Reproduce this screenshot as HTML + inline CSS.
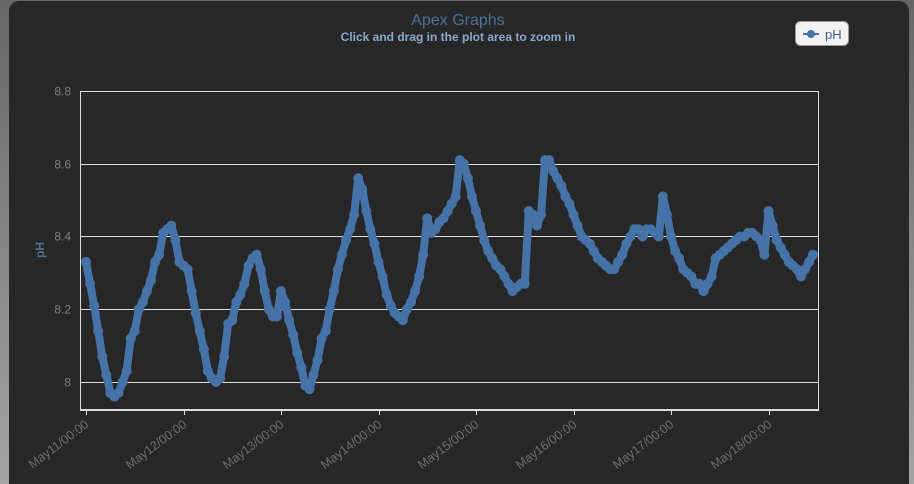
<!DOCTYPE html>
<html><head><meta charset="utf-8"><style>
html,body{margin:0;padding:0;width:914px;height:484px;overflow:hidden;background:linear-gradient(#666,#a4a4a4);font-family:"Liberation Sans",sans-serif}
#panel{position:absolute;left:9px;top:1px;width:900px;height:483px;background:#272727;border-radius:10px 10px 0 0}
svg{position:absolute;left:0;top:0}
</style></head><body>
<div id="panel"></div>
<svg id="chart" width="914" height="484"></svg>
<script>
const tickValues=[8.0,8.2,8.4,8.6,8.8];
const tickLabels=["8","8.2","8.4","8.6","8.8"];
const dayLabels=["May11/00:00","May12/00:00","May13/00:00","May14/00:00","May15/00:00","May16/00:00","May17/00:00","May18/00:00"];
const phValues=[8.33,8.27,8.21,8.14,8.07,8.02,7.97,7.96,7.97,8.00,8.03,8.12,8.14,8.20,8.22,8.25,8.28,8.33,8.35,8.41,8.42,8.43,8.39,8.33,8.32,8.31,8.25,8.19,8.14,8.09,8.03,8.01,8.00,8.01,8.07,8.16,8.17,8.22,8.24,8.27,8.32,8.34,8.35,8.31,8.25,8.20,8.18,8.18,8.25,8.22,8.17,8.13,8.08,8.04,7.99,7.98,8.02,8.06,8.12,8.14,8.20,8.25,8.31,8.35,8.39,8.42,8.46,8.56,8.53,8.47,8.42,8.38,8.33,8.29,8.24,8.21,8.19,8.18,8.17,8.20,8.22,8.25,8.29,8.35,8.45,8.41,8.42,8.44,8.45,8.47,8.49,8.51,8.61,8.60,8.56,8.51,8.47,8.43,8.39,8.36,8.34,8.32,8.31,8.29,8.27,8.25,8.26,8.27,8.27,8.47,8.46,8.43,8.46,8.61,8.61,8.58,8.56,8.54,8.51,8.49,8.46,8.43,8.40,8.39,8.38,8.36,8.34,8.33,8.32,8.31,8.31,8.33,8.35,8.38,8.40,8.42,8.42,8.40,8.42,8.42,8.41,8.40,8.51,8.46,8.40,8.36,8.34,8.31,8.30,8.29,8.27,8.27,8.25,8.27,8.29,8.34,8.35,8.36,8.37,8.38,8.39,8.40,8.40,8.41,8.41,8.40,8.39,8.35,8.47,8.43,8.39,8.37,8.35,8.33,8.32,8.31,8.29,8.31,8.33,8.35,8.35];
const hours=phValues.map((v,i)=>i);

const L=80,R=818,T=91,B=410;
const yS=v=>382-(v-8)/0.2*72.75;
const xS=h=>86+h*97.5/24;
const NS="http://www.w3.org/2000/svg";
const svg=document.getElementById('chart');
function mk(tag,attrs,parent){const e=document.createElementNS(NS,tag);for(const k in attrs)e.setAttribute(k,attrs[k]);(parent||svg).appendChild(e);return e;}

let t=mk('text',{x:458,y:25,'text-anchor':'middle','font-size':16,fill:'#4d7197'});t.textContent='Apex Graphs';


t=mk('text',{x:458,y:41,'text-anchor':'middle','font-size':12,'font-weight':'bold',fill:'#8aa8cc'});t.textContent='Click and drag in the plot area to zoom in';



let r=mk('rect',{x:L+0.5,y:T+0.5,width:R-L,height:B-T,fill:'none',stroke:'#ddd','stroke-width':1});


tickValues.forEach((v,i)=>{
  const y=Math.round(yS(v))+0.5;
  const g=mk('line',{x1:L,x2:R,y1:y,y2:y,stroke:'#ddd','stroke-width':1});
  
  
  const tx=mk('text',{x:71,y:y+4,'text-anchor':'end','font-size':12,fill:'#808080'});
  tx.textContent=tickLabels[i];
  
  
});
const ax=mk('line',{x1:L,x2:R+1,y1:B,y2:B,stroke:'#ddd','stroke-width':2});


dayLabels.forEach((d,i)=>{
  const x=Math.round(xS(i*24))+0.5;
  const tk=mk('line',{x1:x,x2:x,y1:B,y2:B+5,stroke:'#ddd','stroke-width':1});
  
  
  const tx=mk('text',{x:x+3,y:B+16,'text-anchor':'end','font-size':12.5,fill:'#6e6e6e',transform:`rotate(-37 ${x+3} ${B+16})`});
  tx.textContent=d;
  
  
});
t=mk('text',{x:44,y:250,'text-anchor':'middle','font-size':12,'font-weight':'bold',fill:'#4d7197',transform:'rotate(-90 44 250)'});t.textContent='pH';



const pts=hours.map((h,i)=>[Math.min(xS(h),R-5),yS(phValues[i])]);
const ln=mk('polyline',{points:pts.map(p=>p.join(',')).join(' '),fill:'none',stroke:'#4572a7','stroke-width':8,'stroke-linejoin':'round','stroke-linecap':'round'});


pts.forEach(p=>{
  const c=mk('circle',{cx:p[0],cy:p[1],r:5,fill:'#4572a7'});
  
  
});

const lg=mk('g',{});


mk('rect',{x:795.5,y:21.5,width:53,height:24,rx:5,fill:'#f2f2f2',stroke:'#999'},lg);
mk('line',{x1:803,x2:819,y1:34,y2:34,stroke:'#4572a7','stroke-width':2},lg);
mk('circle',{cx:811,cy:34,r:4,fill:'#4572a7'},lg);
t=mk('text',{x:825,y:39,'font-size':13,fill:'#3e5f8a'},lg);t.textContent='pH';


</script>
</body></html>
